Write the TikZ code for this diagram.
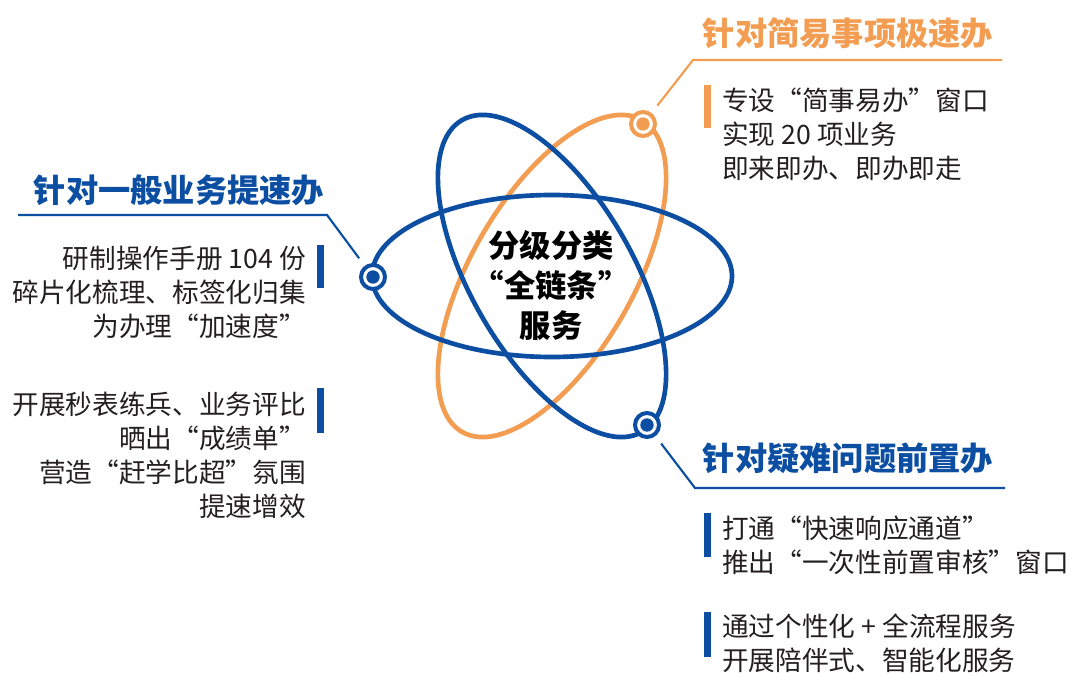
\documentclass[tikz,border=0pt]{standalone}
\usepackage{fontspec}
\setmainfont{Noto Sans CJK SC}
\definecolor{zwblue}{HTML}{0B4EA2}
\definecolor{zworange}{HTML}{F29D52}
\definecolor{zwtext}{HTML}{231F20}

\tikzset{
  orbit/.style={line width=3.5pt},
  marker/.style={circle,draw=#1,line width=3pt,fill=white,minimum size=18pt,inner sep=0pt,
    path picture={\fill[#1] (path picture bounding box.center) circle (5pt);}},
  leader/.style={line width=1.6pt,shorten <=7pt},
  headline/.style={font=\fontsize{24.2}{30}\selectfont\bfseries,inner sep=0pt},
  bodytext/.style={font=\fontsize{20}{25.5}\selectfont,text=zwtext,inner sep=0pt},
  tagbar/.style={fill=#1}
}

\begin{document}
\begin{tikzpicture}[x=0.75pt,y=-0.75pt]
            \useasboundingbox (0,0) rectangle (1073,673);
            \coordinate (c) at (552,276);

            % three orbits
            \draw[orbit,zworange,rotate around={60:(c)}] (c) ellipse (180 and 81);
            \draw[orbit,zwblue,rotate around={-60:(c)}] (c) ellipse (180 and 81);
            \draw[orbit,zwblue] (c) ellipse (180 and 81);

            \node[font=\fontsize{23.5}{30}\selectfont\bfseries,align=center,text=black] (core) at (551,285)
                {分级分类\\“全链条”\\服务};

            % markers on the orbits
            \node[marker=zwblue] (mkL) at (373,277) {};
            \node[marker=zworange] (mkO) at (643,124) {};
            \node[marker=zwblue] (mkB) at (647,425) {};

            % top right
            \coordinate (oBend) at (693,60);
            \coordinate (oEnd) at (1002,60);
            \draw[leader,zworange] (mkO) -- (oBend) -- (oEnd);
            \node[headline,text=zworange] (tO) at (848,33) {针对简易事项极速办};
            \fill[tagbar=zworange] (704,85) rectangle (711,128);
            \node[bodytext,anchor=west,align=left] (bO) at (722,134)
                {专设“简事易办”窗口\\实现 20 项业务\\即来即办、即办即走};

            % left
            \coordinate (lBend) at (327,215);
            \coordinate (lEnd) at (18,215);
            \draw[leader,zwblue] (mkL) -- (lBend) -- (lEnd);
            \node[headline,text=zwblue] (tL) at (179,190) {针对一般业务提速办};
            \fill[tagbar=zwblue] (317,245) rectangle (324,288);
            \node[bodytext,anchor=east,align=right] (bL1) at (306,292)
                {研制操作手册 104 份\\碎片化梳理、标签化归集\\为办理“加速度”};
            \fill[tagbar=zwblue] (317,388) rectangle (324,433);
            \node[bodytext,anchor=east,align=right] (bL2) at (306,455)
                {开展秒表练兵、业务评比\\晒出“成绩单”\\营造“赶学比超”氛围\\提速增效};

            % bottom right
            \coordinate (bBend) at (695,488);
            \coordinate (bEnd) at (1005,488);
            \draw[leader,zwblue] (mkB) -- (bBend) -- (bEnd);
            \node[headline,text=zwblue] (tB) at (848,458) {针对疑难问题前置办};
            \fill[tagbar=zwblue] (704,513) rectangle (711,557);
            \node[bodytext,anchor=west,align=left] (bB1) at (722,545)
                {打通“快速响应通道”\\推出“一次性前置审核”窗口};
            \fill[tagbar=zwblue] (704,612) rectangle (711,657);
            \node[bodytext,anchor=west,align=left] (bB2) at (722,643)
                {通过个性化 + 全流程服务\\开展陪伴式、智能化服务};
        \end{tikzpicture}
\end{document}
